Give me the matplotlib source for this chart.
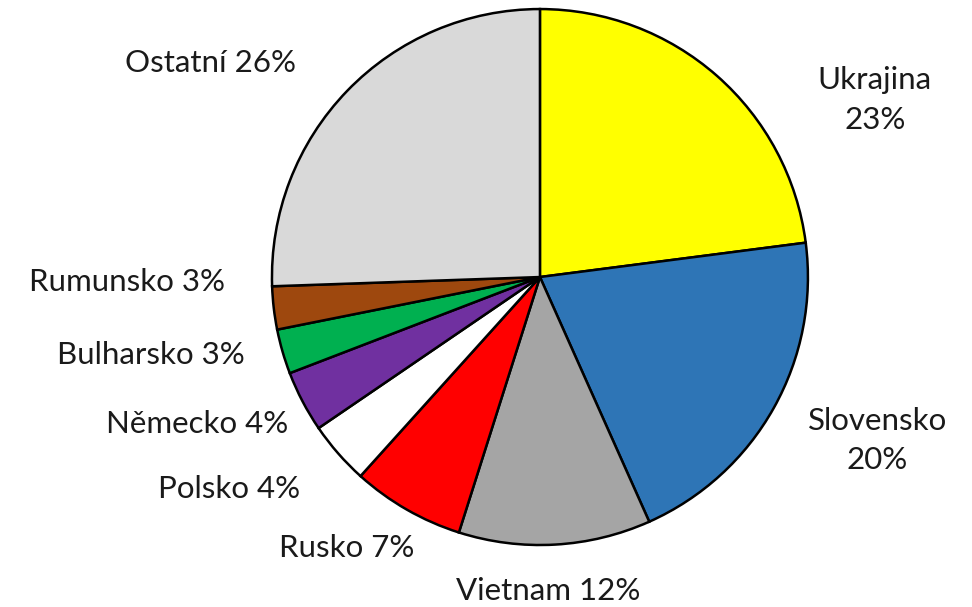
import matplotlib
matplotlib.use('Agg')
import matplotlib.pyplot as plt
import numpy as np

plt.rcParams['font.family'] = ['Lato', 'DejaVu Sans']

# zeme a podily (odhad z obrazku)
zeme = ['Ukrajina', 'Slovensko', 'Vietnam', 'Rusko', 'Polsko',
        'Německo', 'Bulharsko', 'Rumunsko', 'Ostatní']
podil = [23.0, 20.4, 11.6, 6.8, 3.8, 3.7, 2.7, 2.6, 25.6]
popisky = ['Ukrajina\n23%', 'Slovensko\n20%', 'Vietnam 12%', 'Rusko 7%',
           'Polsko 4%', 'Německo 4%', 'Bulharsko 3%', 'Rumunsko 3%',
           'Ostatní 26%']
barvy = ['#FFFF00', '#2E75B6', '#A5A5A5', '#FF0000', '#FFFFFF',
         '#7030A0', '#00B050', '#9E480E', '#D9D9D9']

# pozice popisku (v polomerech kolacu)
pozice = [(1.25, 0.66), (1.26, -0.61), (0.03, -1.17), (-0.72, -1.01),
          (-1.16, -0.79), (-1.28, -0.55), (-1.45, -0.29), (-1.54, -0.02),
          (-1.23, 0.80)]

fig = plt.figure(figsize=(9.72, 6.07), dpi=100)
ax = fig.add_axes([0.2798, 0.1021, 0.5514, 0.883])

ax.pie(podil, colors=barvy, startangle=90, counterclock=False,
       wedgeprops=dict(edgecolor='black', linewidth=1.8))
ax.set_xlim(-1, 1)
ax.set_ylim(-1, 1)
ax.set_aspect('equal')
ax.axis('off')

for txt, (x, y) in zip(popisky, pozice):
    ax.text(x, y, txt, ha='center', va='center', fontsize=22.5,
            color='#1a1a1a', clip_on=False, linespacing=1.5)

fig.savefig('out.png', dpi=100)
